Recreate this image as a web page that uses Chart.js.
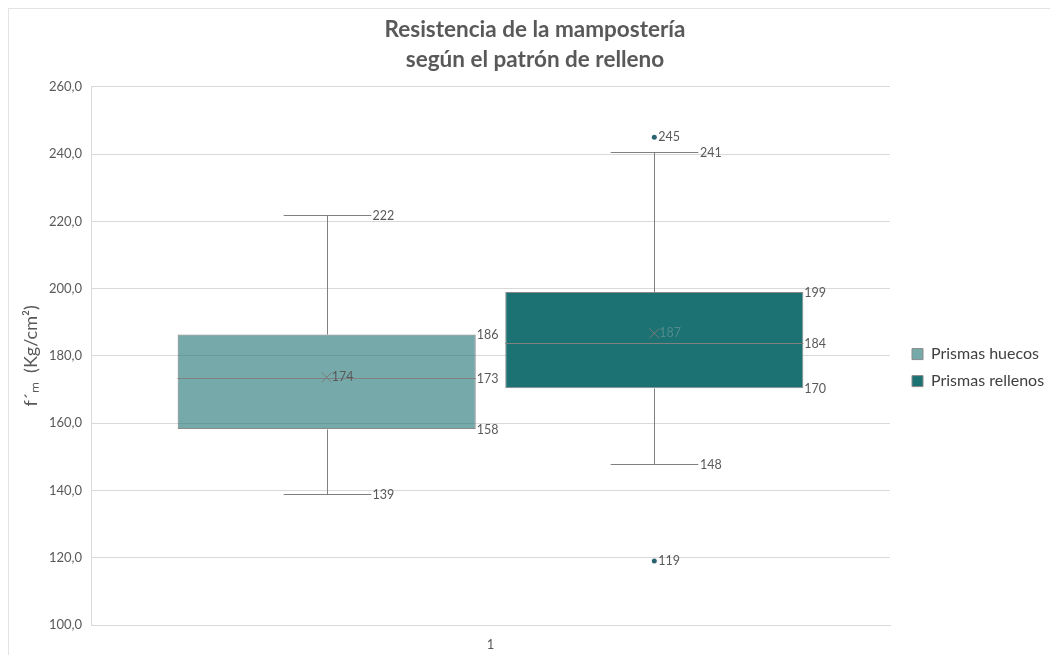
<!DOCTYPE html>
<html lang="es">
<head>
<meta charset="utf-8">
<title>Resistencia de la mampostería</title>
<script src="https://cdn.jsdelivr.net/npm/chart.js@4.4.1/dist/chart.umd.min.js"></script>
<style>
  html, body { margin: 0; padding: 0; background: #fff; }
  #wrap { width: 1050px; height: 655px; }
</style>
</head>
<body>
<div id="wrap"><canvas id="boxChart" width="1050" height="655"></canvas></div>
<script>
// Five-number summaries per prism type, Kg/cm²
const categories = ['1'];
const seriesNames = ['Prismas huecos', 'Prismas rellenos'];
const minValues = [138.8, 147.9];
const q1Values = [158.3, 170.4];
const medianValues = [173.4, 183.9];
const q3Values = [186.4, 199.0];
const maxValues = [221.9, 240.6];
const meanValues = [173.6, 186.7];
const outlierValues = [[], [245.0, 119.0]];
const yTicks = [100, 120, 140, 160, 180, 200, 220, 240, 260];

// hollow prisms are a see-through tint of the filled-prism teal
const fillColors = ['rgba(26, 114, 114, 0.6)', '#1c7272'];
const meanLabelColors = ['#595959', '#4f8b8b'];
const lineGray = '#808080';
const textGray = '#595959';

const crisp = v => Math.round(v) + 0.5;

// whiskers, medians, means, outliers and value labels on top of the boxes
const boxExtras = {
  id: 'boxExtras',
  afterDatasetsDraw(chart) {
    const { ctx } = chart;
    const y = chart.scales.y;
    ctx.save();
    ctx.lineWidth = 1;
    ctx.font = '12.5px Lato';
    ctx.textBaseline = 'middle';
    ctx.textAlign = 'left';

    chart.data.datasets.forEach((ds, i) => {
      const bar = chart.getDatasetMeta(i).data[0];
      if (!bar) return;
      const cx = crisp(bar.x);
      const half = bar.width / 2;
      const capHalf = bar.width * 0.147;
      const yMin = crisp(y.getPixelForValue(minValues[i]));
      const yQ1 = crisp(y.getPixelForValue(q1Values[i]));
      const yMed = crisp(y.getPixelForValue(medianValues[i]));
      const yQ3 = crisp(y.getPixelForValue(q3Values[i]));
      const yMax = crisp(y.getPixelForValue(maxValues[i]));
      const yMean = y.getPixelForValue(meanValues[i]);

      ctx.strokeStyle = lineGray;
      ctx.beginPath();
      // upper whisker + cap
      ctx.moveTo(cx, yQ3); ctx.lineTo(cx, yMax);
      ctx.moveTo(cx - capHalf, yMax); ctx.lineTo(cx + capHalf, yMax);
      // lower whisker + cap
      ctx.moveTo(cx, yQ1); ctx.lineTo(cx, yMin);
      ctx.moveTo(cx - capHalf, yMin); ctx.lineTo(cx + capHalf, yMin);
      // median
      ctx.moveTo(bar.x - half, yMed); ctx.lineTo(bar.x + half, yMed);
      ctx.stroke();

      // mean marker
      ctx.strokeStyle = '#7a7a7a';
      ctx.beginPath();
      ctx.moveTo(bar.x - 5, yMean - 5); ctx.lineTo(bar.x + 5, yMean + 5);
      ctx.moveTo(bar.x + 5, yMean - 5); ctx.lineTo(bar.x - 5, yMean + 5);
      ctx.stroke();

      // outliers
      ctx.fillStyle = '#2b6470';
      outlierValues[i].forEach(v => {
        ctx.beginPath();
        ctx.arc(bar.x, y.getPixelForValue(v), 2.5, 0, Math.PI * 2);
        ctx.fill();
      });

      // value labels
      ctx.fillStyle = textGray;
      const fmt = v => Math.round(v).toString();
      ctx.fillText(fmt(maxValues[i]), bar.x + capHalf + 2, yMax);
      ctx.fillText(fmt(minValues[i]), bar.x + capHalf + 2, yMin);
      ctx.fillText(fmt(q3Values[i]), bar.x + half + 1, yQ3);
      ctx.fillText(fmt(medianValues[i]), bar.x + half + 1, yMed);
      ctx.fillText(fmt(q1Values[i]), bar.x + half + 1, yQ1);
      outlierValues[i].forEach(v => {
        ctx.fillText(fmt(v), bar.x + 4, y.getPixelForValue(v));
      });
      ctx.fillStyle = meanLabelColors[i];
      ctx.fillText(fmt(meanValues[i]), bar.x + 5, yMean);
    });
    ctx.restore();
  }
};

// thin frame round the whole chart
const chartFrame = {
  id: 'chartFrame',
  beforeDraw(chart) {
    const { ctx } = chart;
    ctx.save();
    ctx.strokeStyle = '#e3e3e3';
    ctx.lineWidth = 1;
    ctx.strokeRect(8.5, 8.5, chart.width, chart.height);
    ctx.restore();
  }
};

new Chart(document.getElementById('boxChart'), {
  type: 'bar',
  data: {
    labels: categories,
    datasets: seriesNames.map((name, i) => ({
      label: name,
      data: [[q1Values[i], q3Values[i]]],
      backgroundColor: fillColors[i],
      borderColor: '#8a8a8a',
      borderWidth: 1,
      borderSkipped: false,
      categoryPercentage: 0.82,
      barPercentage: 0.91
    }))
  },
  options: {
    responsive: false,
    animation: false,
    layout: { padding: { left: 20, right: 0, top: 0, bottom: 0 } },
    plugins: {
      title: {
        display: true,
        text: ['Resistencia de la mampostería', 'según el patrón de relleno'],
        color: textGray,
        font: { family: 'Lato', size: 22.5, weight: 'bold', lineHeight: 1.33 },
        padding: { top: 15, bottom: 12 }
      },
      legend: {
        position: 'right',
        maxWidth: 149,
        title: { display: true, text: '', font: { size: 1 }, padding: { top: 39, bottom: 40 } },
        labels: {
          boxWidth: 11,
          boxHeight: 11,
          padding: 11,
          color: '#404040',
          font: { family: 'Lato', size: 16 }
        }
      },
      tooltip: { enabled: false }
    },
    scales: {
      x: {
        afterFit: s => { s.height = 30; },
        grid: { display: false, drawTicks: false },
        border: { color: '#d9d9d9' },
        ticks: { color: textGray, font: { family: 'Lato', size: 13 }, padding: 12 }
      },
      y: {
        min: yTicks[0],
        max: yTicks[yTicks.length - 1],
        afterBuildTicks: s => { s.ticks = yTicks.map(v => ({ value: v })); },
        afterFit: s => { s.width = 71; },
        grid: { color: '#d9d9d9', drawTicks: false },
        border: { color: '#d9d9d9' },
        ticks: {
          color: textGray,
          font: { family: 'Lato', size: 13 },
          padding: 9,
          callback: v => v.toFixed(1).replace('.', ',')
        },
        title: {
          display: true,
          text: 'f´ₘ  (Kg/cm²)',
          color: textGray,
          font: { family: 'Lato', size: 18 },
          padding: { top: 0, bottom: 0 }
        }
      },
      yPad: {
        position: 'right',
        display: true,
        grid: { display: false },
        border: { display: false },
        ticks: { display: false },
        afterFit: s => { s.width = 11; }
      }
    }
  },
  plugins: [boxExtras, chartFrame]
});
</script>
</body>
</html>
